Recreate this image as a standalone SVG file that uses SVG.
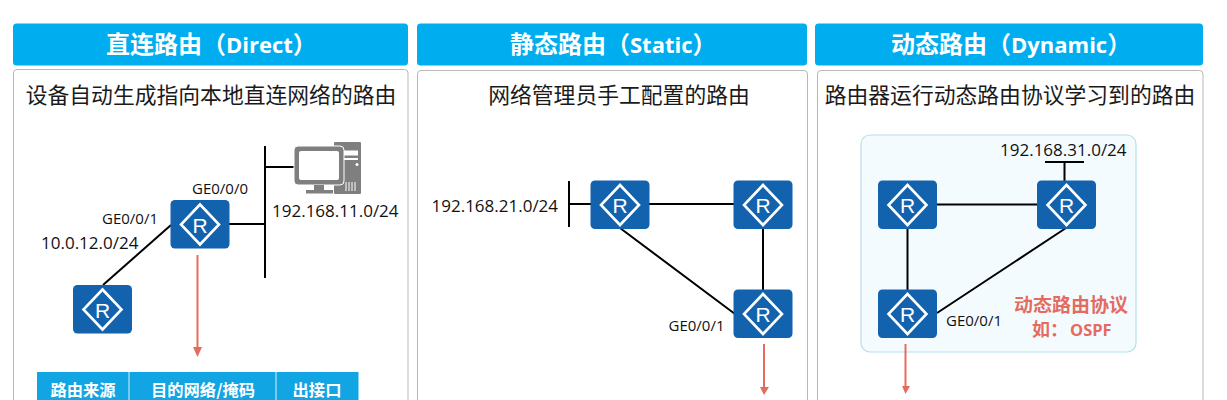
<svg xmlns="http://www.w3.org/2000/svg" xmlns:xlink="http://www.w3.org/1999/xlink" width="1227" height="400" viewBox="0 0 1227 400">
<style>
text{font-family:"Open Sans","Noto Sans CJK SC",sans-serif;fill:#111}
.cn{font-family:"Noto Sans CJK SC",sans-serif}
.head{fill:#00aeef}
.hd{font-size:24px;font-weight:700;fill:#fff}
.lat{font-family:"Open Sans",sans-serif;font-size:22px;font-weight:700}
.panel{fill:#fff;stroke:#b8b8b8;stroke-width:1}
.sub{font-size:21.800px;text-anchor:middle;fill:#1a1a1a}
.ip{font-size:17px}
.ge{font-size:15px}
.ln{stroke:#000;stroke-width:2;fill:none}
.ar{stroke:#e46c5f;stroke-width:2;fill:none}
.ah{fill:#e46c5f}
.rb{fill:#1262ad}
.rd{fill:none;stroke:#fff;stroke-width:2.600}
.rt{font-family:"Liberation Sans",sans-serif;font-size:21px;fill:#fff;text-anchor:middle}
.th{font-size:16.300px;font-weight:700;fill:#fff;text-anchor:middle}
.red{font-size:19px;font-weight:700;fill:#e46c5f;text-anchor:middle}
.red2{font-size:18px;font-weight:700;fill:#e46c5f}
.red3{font-family:"Open Sans",sans-serif;font-size:16.500px;font-weight:700}
</style>
<defs>
<g id="r">
<rect class="rb" x="0" y="0" width="59" height="48.500" rx="4.500"/>
<path class="rd" d="M29.500 4.500L48.500 24.500L29.500 44.500L10.500 24.500Z"/>
<text class="rt" x="29.500" y="32.500">R</text>
</g>
</defs>
<rect width="1227" height="400" fill="#fff"/>
<g id="panel-direct">
<rect class="head" x="13" y="23.500" width="395" height="42" rx="3.500"/>
<text class="hd cn" x="106" y="53">直连路由（<tspan class="lat">Direct</tspan>）</text>
<rect class="panel" x="13.500" y="69.500" width="394.500" height="340" rx="3.500"/>
<text class="sub cn" x="211" y="103">设备自动生成指向本地直连网络的路由</text>
</g>
<g id="panel-static">
<rect class="head" x="417" y="23.500" width="390" height="42" rx="3.500"/>
<text class="hd cn" x="510" y="53">静态路由（<tspan class="lat">Static</tspan>）</text>
<rect class="panel" x="417.500" y="70.500" width="390" height="340" rx="3.500"/>
<text class="sub cn" x="619" y="103">网络管理员手工配置的路由</text>
</g>
<g id="panel-dynamic">
<rect class="head" x="815" y="23.500" width="388" height="42" rx="3.500"/>
<text class="hd cn" x="891" y="53">动态路由（<tspan class="lat">Dynamic</tspan>）</text>
<rect class="panel" x="817.500" y="70.500" width="385.500" height="340" rx="3.500"/>
<text class="sub cn" x="1010" y="103">路由器运行动态路由协议学习到的路由</text>
</g>
<g id="ospf-area">
<rect x="861" y="135" width="275" height="217" rx="9" fill="#f4fbfe" stroke="#b5e0ec" stroke-width="1.200"/>
</g>
<g id="connectors">
<path class="ln" d="M265 146V278M229 224H265M264 167H295"/>
<path class="ln" d="M171 225L103 285"/>
<path class="ar" d="M197.500 255V350"/>
<path class="ah" d="M193 347H202L197.500 357Z"/>
<path class="ln" d="M569 181V227M569 204H591M649 204H734M763 228V290M620 228L735 314"/>
<path class="ar" d="M764 344V388"/>
<path class="ah" d="M760 387H769L764 395Z"/>
<path class="ln" d="M1045 162H1084M1064.500 162V181M937 204.500H1037M907.500 228V290M1066 228L937 313"/>
<path class="ar" d="M905.500 344V387"/>
<path class="ah" d="M902 386H910L905.500 394Z"/>
</g>
<g id="router-a"><use xlink:href="#r" href="#r" x="170.500" y="200"/></g>
<g id="router-b"><use xlink:href="#r" href="#r" x="73" y="285"/></g>
<g id="router-c"><use xlink:href="#r" href="#r" x="590.500" y="180.500"/></g>
<g id="router-d"><use xlink:href="#r" href="#r" x="733.500" y="180.500"/></g>
<g id="router-e"><use xlink:href="#r" href="#r" x="733.500" y="289.500"/></g>
<g id="router-f"><use xlink:href="#r" href="#r" x="878" y="180.500"/></g>
<g id="router-g"><use xlink:href="#r" href="#r" x="1037" y="180.500"/></g>
<g id="router-h"><use xlink:href="#r" href="#r" x="878" y="289.500"/></g>
<g id="computer">
<rect x="334" y="142" width="27" height="52" rx="1" fill="#7f7f7f"/>
<rect x="343" y="150.500" width="15" height="5" fill="#fff"/>
<rect x="343" y="158" width="15" height="2" fill="#fff"/>
<circle cx="357" cy="164.500" r="1.500" fill="#fff"/>
<path d="M346 182V191M349 182V191M352 182V191M355 182V191" stroke="#fff" stroke-width="1"/>
<rect x="294" y="146" width="50" height="39" rx="4" fill="#7f7f7f" stroke="#fff" stroke-width="1"/>
<rect x="299" y="151" width="40" height="29" rx="2" fill="#fff"/>
<rect x="314" y="185" width="10" height="5" fill="#7f7f7f"/>
<rect x="306" y="190" width="27" height="3.500" fill="#7f7f7f"/>
</g>
<g id="labels">
<text class="ge" x="192" y="194">GE0/0/0</text>
<text class="ge" x="102" y="224">GE0/0/1</text>
<text class="ip" x="41" y="249">10.0.12.0/24</text>
<text class="ip" x="272" y="217">192.168.11.0/24</text>
<text class="ip" x="431.500" y="212">192.168.21.0/24</text>
<text class="ge" x="668.500" y="331">GE0/0/1</text>
<text class="ip" x="1000" y="156">192.168.31.0/24</text>
<text class="ge" x="946" y="326">GE0/0/1</text>
<text class="red cn" x="1071" y="312">动态路由协议</text>
<text class="red2 cn" x="1032" y="336">如：<tspan class="red3" x="1070">OSPF</tspan></text>
</g>
<g id="route-table">
<rect x="37" y="372" width="321.500" height="28" fill="#12a5e4"/>
<path d="M129 372V400M276 372V400" stroke="#d8effa" stroke-width="1"/>
<text class="th cn" x="83" y="396">路由来源</text>
<text class="th cn" x="203" y="396">目的网络/掩码</text>
<text class="th cn" x="317" y="396">出接口</text>
</g>
</svg>
